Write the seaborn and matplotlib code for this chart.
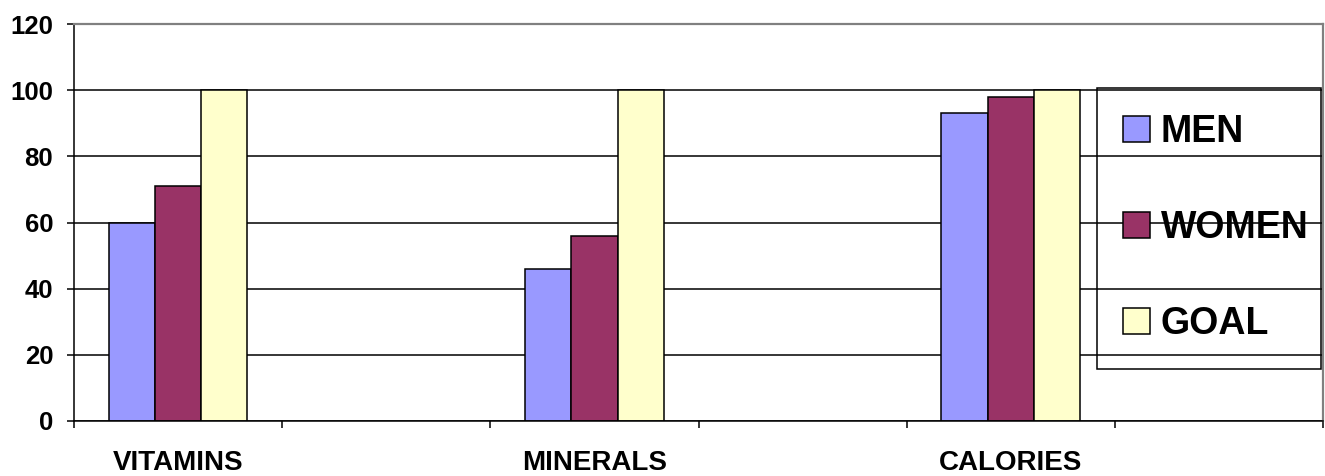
import matplotlib
matplotlib.use("Agg")
import matplotlib.pyplot as plt
import numpy as np
import pandas as pd
import seaborn as sns

# Nutrient intake as percent of goal
categories = ["VITAMINS", "MINERALS", "CALORIES"]
men = [60, 46, 93]
women = [71, 56, 98]
goal = [100, 100, 100]
series_names = ["MEN", "WOMEN", "GOAL"]
series_colors = ["#9999FF", "#993366", "#FFFFCC"]
y_ticks = [0, 20, 40, 60, 80, 100, 120]

df = pd.DataFrame({
    "category": categories * 3,
    "series": [s for s in series_names for _ in categories],
    "value": men + women + goal,
})

sns.set_theme(style="white")
plt.rcParams["font.family"] = ["Liberation Sans", "DejaVu Sans"]
plt.rcParams["font.weight"] = "bold"
plt.rcParams["text.color"] = "black"
plt.rcParams["xtick.color"] = "black"
plt.rcParams["ytick.color"] = "black"
plt.rcParams["xtick.labelcolor"] = "black"
plt.rcParams["ytick.labelcolor"] = "black"

fig = plt.figure(figsize=(13.25, 4.76), dpi=100)
ax = fig.add_axes([74 / 1325, 1 - 421 / 476, 1249 / 1325, 397 / 476])

sns.barplot(
    data=df, x="category", y="value", hue="series",
    order=categories, hue_order=series_names,
    palette=series_colors, width=1 / 3, gap=0,
    edgecolor="black", linewidth=1.1, saturation=1, ax=ax,
)

# Axis ranges and ticks
ax.set_ylim(0, 120)
ax.set_yticks(y_ticks)
ax.set_yticklabels([str(t) for t in y_ticks], fontsize=18.5, fontweight="bold",
                   color="black")
ax.set_xlim(-0.25, 2.75)
ax.set_xticks(np.arange(-0.25, 2.76, 0.5))
ax.set_xticklabels([])
ax.set_xticks(range(len(categories)), minor=True)
ax.set_xticklabels(categories, minor=True, fontsize=20, fontweight="bold",
                   color="black")
ax.tick_params(axis="x", which="major", direction="out", length=5, width=1.1,
               color="black", bottom=True)
ax.tick_params(axis="x", which="minor", length=0, pad=21)
ax.tick_params(axis="y", direction="out", length=5, width=1.1, color="black",
               left=True, pad=10)
ax.set_xlabel("")
ax.set_ylabel("")

# Horizontal gridlines behind bars
ax.set_axisbelow(True)
ax.yaxis.grid(True, color="black", linewidth=1.1)
ax.xaxis.grid(False)

for side in ["left", "bottom"]:
    ax.spines[side].set_color("black")
    ax.spines[side].set_linewidth(1.1)
for side in ["top", "right"]:
    ax.spines[side].set_color("#808080")
    ax.spines[side].set_linewidth(1.6)

# Legend with transparent body and black outline
ax.legend_.remove()
handles, labels = ax.get_legend_handles_labels()
leg = ax.legend(
    handles, labels,
    loc="upper left",
    bbox_to_anchor=(1023 / 1249, 333 / 397, 224 / 1249, 0.0),
    mode="expand", borderaxespad=0,
    prop={"size": 27, "weight": "bold"},
    handlelength=0.7, handleheight=0.7, handletextpad=0.3,
    labelspacing=1.6, borderpad=0.7,
    frameon=True, fancybox=False,
    facecolor="none", edgecolor="black", framealpha=1,
)
leg.get_frame().set_linewidth(1.1)
for txt in leg.get_texts():
    txt.set_color("black")

fig.savefig("out.png", dpi=100, facecolor="white")
